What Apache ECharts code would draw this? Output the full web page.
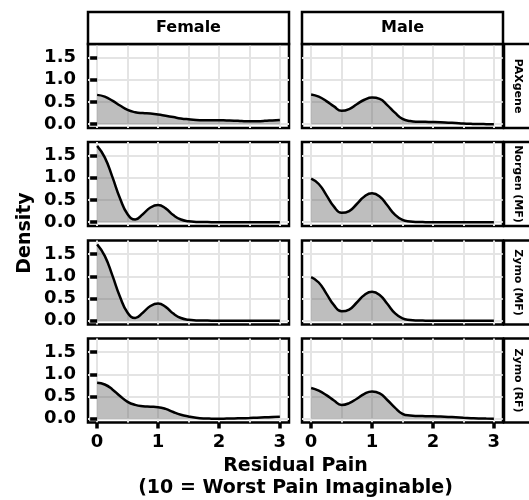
<!DOCTYPE html>
<html><head><meta charset="utf-8">
<script src="https://cdn.jsdelivr.net/npm/echarts@6/dist/echarts.min.js"></script>
<style>html,body{margin:0;padding:0;background:#fff}#c{width:529px;height:500px}</style>
</head><body><div id="c"></div>
<script>
// ---- data ----
const colLabels = ['Female', 'Male'];
const rowLabels = ['PAXgene', 'Norgen (MF)', 'Zymo (MF)', 'Zymo (RF)'];
const xTickValues = [0, 1, 2, 3];
const xGridValues = [0, 0.5, 1, 1.5, 2, 2.5, 3];
const yTickValues = [0, 0.5, 1, 1.5];
const xTitle1 = 'Residual Pain';
const xTitle2 = '(10 = Worst Pain Imaginable)';
const yTitle = 'Density';

const residualPain = [0, 0.125, 0.25, 0.375, 0.5, 0.625, 0.75, 0.875, 1, 1.125, 1.25, 1.375, 1.5,
  1.625, 1.75, 1.875, 2, 2.125, 2.25, 2.375, 2.5, 2.625, 2.75, 2.875, 3];

const femalePAXgene = [0.66, 0.62, 0.53, 0.42, 0.32, 0.27, 0.25, 0.24, 0.22, 0.19, 0.16, 0.13, 0.11,
  0.095, 0.09, 0.09, 0.09, 0.085, 0.08, 0.07, 0.065, 0.068, 0.075, 0.085, 0.095];
const malePAXgene = [0.67, 0.62, 0.52, 0.40, 0.30, 0.34, 0.45, 0.55, 0.60, 0.57, 0.43, 0.26, 0.12,
  0.07, 0.055, 0.052, 0.05, 0.045, 0.035, 0.025, 0.015, 0.008, 0.003, 0.001, 0.0];
const femaleNorgenMF = [1.72, 1.46, 1.02, 0.54, 0.18, 0.06, 0.18, 0.33, 0.385, 0.31, 0.16, 0.06, 0.02,
  0.006, 0.002, 0.001, 0, 0, 0, 0, 0, 0, 0, 0, 0];
const maleNorgenMF = [0.98, 0.86, 0.61, 0.35, 0.21, 0.25, 0.41, 0.58, 0.65, 0.58, 0.38, 0.17, 0.05,
  0.015, 0.004, 0.001, 0, 0, 0, 0, 0, 0, 0, 0, 0];
const femaleZymoMF = [1.72, 1.46, 1.02, 0.54, 0.18, 0.06, 0.18, 0.33, 0.385, 0.31, 0.16, 0.06, 0.02,
  0.006, 0.002, 0.001, 0, 0, 0, 0, 0, 0, 0, 0, 0];
const maleZymoMF = [0.98, 0.86, 0.61, 0.35, 0.21, 0.25, 0.41, 0.58, 0.65, 0.58, 0.38, 0.17, 0.05,
  0.015, 0.004, 0.001, 0, 0, 0, 0, 0, 0, 0, 0, 0];
const femaleZymoRF = [0.81, 0.77, 0.66, 0.51, 0.38, 0.31, 0.28, 0.27, 0.26, 0.22, 0.15, 0.09, 0.05,
  0.02, 0.005, 0.001, 0.0, 0.002, 0.005, 0.01, 0.015, 0.022, 0.03, 0.038, 0.045];
const maleZymoRF = [0.69, 0.63, 0.53, 0.41, 0.31, 0.35, 0.45, 0.56, 0.61, 0.57, 0.42, 0.25, 0.11,
  0.07, 0.06, 0.057, 0.055, 0.048, 0.04, 0.03, 0.02, 0.012, 0.005, 0.002, 0.0];

// ---- layout ----
const FONT = 'DejaVu Sans';
const colLeft = [88, 302], colWidth = [201, 201];
const rowTop = [44, 142, 240.5, 338.5], rowHeight = 84;
const xMin = -0.15, xMax = 3.15, yMin = -0.086, yMax = 1.806;
const panels = [
  [femalePAXgene, malePAXgene],
  [femaleNorgenMF, maleNorgenMF],
  [femaleZymoMF, maleZymoMF],
  [femaleZymoRF, maleZymoRF]
];
const gridColor = '#e4e4e4';

const grid = [], xAxis = [], yAxis = [], series = [], graphic = [];
for (let r = 0; r < 4; r++) {
  for (let c = 0; c < 2; c++) {
    const i = grid.length;
    const bottom = r === 3;
    grid.push({left: colLeft[c], top: rowTop[r], width: colWidth[c], height: rowHeight,
      show: true, borderColor: '#000', borderWidth: 2.5, backgroundColor: 'transparent'});
    xAxis.push({gridIndex: i, type: 'value', position: 'top', min: xMin, max: xMax,
      axisLine: {show: false}, axisTick: {show: false, customValues: xGridValues},
      axisLabel: {show: false}, splitLine: {show: true, lineStyle: {color: gridColor, width: 2}}});
    xAxis.push({gridIndex: i, type: 'value', position: 'bottom', min: xMin, max: xMax,
      axisLine: {show: false},
      axisTick: {show: bottom, customValues: xTickValues, length: 6, lineStyle: {color: '#000', width: 3.5}},
      axisLabel: {show: bottom, customValues: xTickValues, formatter: v => String(v), margin: 11,
        fontFamily: FONT, fontWeight: 'bold', fontSize: 18, color: '#000'},
      splitLine: {show: false}});
    yAxis.push({gridIndex: i, type: 'value', min: yMin, max: yMax,
      axisLine: {show: false},
      axisTick: {show: c === 0, customValues: yTickValues, length: 7, lineStyle: {color: '#000', width: 3.5}},
      axisLabel: {show: c === 0, customValues: yTickValues, formatter: v => Number(v).toFixed(1), margin: 12,
        fontFamily: FONT, fontWeight: 'bold', fontSize: 18, color: '#000'},
      splitLine: {show: true, lineStyle: {color: gridColor, width: 2}}});
    const ys = panels[r][c];
    series.push({type: 'line', xAxisIndex: 2 * i + 1, yAxisIndex: i,
      data: residualPain.map((x, k) => [x, ys[k]]),
      smooth: true, symbol: 'none', silent: true,
      lineStyle: {color: '#000', width: 2.5},
      areaStyle: {color: 'rgba(100,100,100,0.42)', opacity: 1, origin: 'auto'}});
  }
}

// column strips
for (let c = 0; c < 2; c++) {
  graphic.push({type: 'rect', shape: {x: colLeft[c], y: 12, width: colWidth[c], height: 32},
    style: {fill: '#fff', stroke: '#000', lineWidth: 2.5}, z: 10});
  graphic.push({type: 'text', x: colLeft[c] + colWidth[c] / 2, y: 28, z: 11,
    style: {text: colLabels[c], fill: '#000', font: 'bold 16px "DejaVu Sans"', align: 'center', verticalAlign: 'middle'}});
}
// row strips
for (let r = 0; r < 4; r++) {
  graphic.push({type: 'rect', shape: {x: 504, y: rowTop[r], width: 40, height: rowHeight},
    style: {fill: '#fff', stroke: '#000', lineWidth: 2.5}, z: 10});
  graphic.push({type: 'text', x: 518, y: rowTop[r] + rowHeight / 2, rotation: -Math.PI / 2, z: 11,
    style: {text: rowLabels[r], fill: '#000', font: 'bold 11px "DejaVu Sans"', align: 'center', verticalAlign: 'middle'}});
}
// axis titles
graphic.push({type: 'text', x: 25, y: 233, rotation: Math.PI / 2, z: 11,
  style: {text: yTitle, fill: '#000', font: 'bold 19px "DejaVu Sans"', align: 'center', verticalAlign: 'middle'}});
graphic.push({type: 'text', x: 295.5, y: 466, z: 11,
  style: {text: xTitle1, fill: '#000', font: 'bold 19px "DejaVu Sans"', align: 'center', verticalAlign: 'middle'}});
graphic.push({type: 'text', x: 295.5, y: 488, z: 11,
  style: {text: xTitle2, fill: '#000', font: 'bold 19px "DejaVu Sans"', align: 'center', verticalAlign: 'middle'}});

const chart = echarts.init(document.getElementById('c'), null, {renderer: 'canvas'});
chart.setOption({animation: false, backgroundColor: '#fff', grid, xAxis, yAxis, series, graphic});
</script></body></html>
